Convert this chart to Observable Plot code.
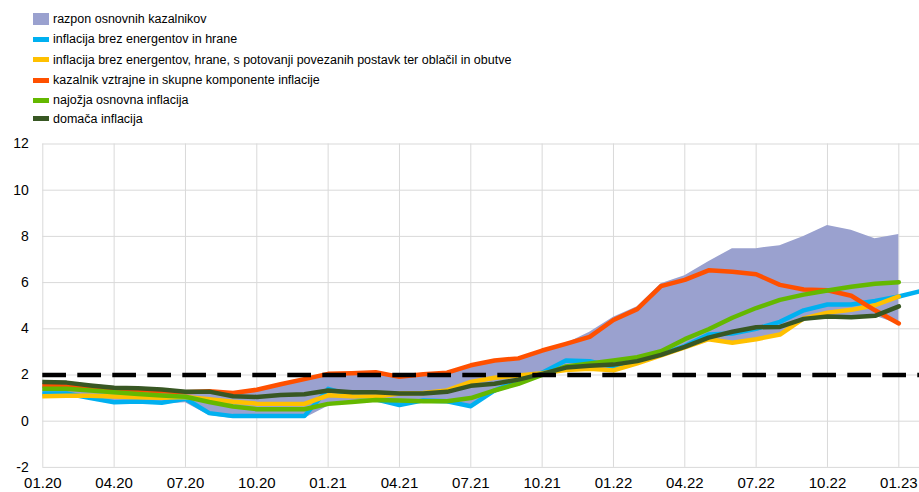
<!DOCTYPE html>
<html>
<head>
<meta charset="utf-8">
<script src="https://cdn.jsdelivr.net/npm/d3@7"></script>
<script src="https://cdn.jsdelivr.net/npm/@observablehq/plot@0.6"></script>
<style>
  body { margin: 0; background: #fff; font-family: "Liberation Sans", Arial, sans-serif; }
  #legend { position: relative; height: 132px; width: 919px; }
  .item { position: absolute; left: 33px; height: 20px; display: flex; align-items: center; font-size: 12.5px; color: #000; white-space: nowrap; }
  .sw { display: inline-block; margin-right: 4px; }
  #chart svg { display: block; }
</style>
</head>
<body>
<div id="legend"></div>
<div id="chart"></div>
<script>
// Month labels (index 0 = 01.20)
const monthLabels = ["01.20","02.20","03.20","04.20","05.20","06.20","07.20","08.20","09.20","10.20","11.20","12.20",
  "01.21","02.21","03.21","04.21","05.21","06.21","07.21","08.21","09.21","10.21","11.21","12.21",
  "01.22","02.22","03.22","04.22","05.22","06.22","07.22","08.22","09.22","10.22","11.22","12.22",
  "01.23","02.23"];
const xTicks = [0,3,6,9,12,15,18,21,24,27,30,33,36];
const yTicks = [-2,0,2,4,6,8,10,12];

const seriesNames = [
  "razpon osnovnih kazalnikov",
  "inflacija brez energentov in hrane",
  "inflacija brez energentov, hrane, s potovanji povezanih postavk ter oblačil in obutve",
  "kazalnik vztrajne in skupne komponente inflacije",
  "najožja osnovna inflacija",
  "domača inflacija"
];
const seriesColors = ["#9aa1cf","#00b0f0","#ffc000","#ff5000","#64b800","#385723"];

// range of core indicators (lower / upper bound)
const rangeLow = [1.0,1.05,0.95,0.78,0.8,0.75,0.8,0.25,0.12,0.12,0.12,0.12,
  0.65,0.8,0.85,0.65,0.8,0.8,0.6,1.2,1.6,2.0,2.2,2.25,
  2.15,2.45,2.8,3.15,3.5,3.35,3.5,3.7,4.4,4.5,4.5,4.55,4.2];
const rangeHigh = [1.75,1.72,1.6,1.5,1.48,1.42,1.3,1.32,1.25,1.38,1.6,1.82,
  2.05,2.08,2.12,1.92,2.03,2.1,2.42,2.63,2.72,3.06,3.35,3.85,
  4.5,4.95,5.95,6.3,6.9,7.47,7.47,7.6,8.0,8.47,8.27,7.9,8.08];

const exFoodEnergy = [1.2,1.2,1.0,0.82,0.85,0.8,0.97,0.35,0.22,0.22,0.22,0.22,
  1.4,1.12,0.95,0.7,0.9,0.86,0.65,1.33,1.76,2.1,2.63,2.6,
  2.35,2.6,2.9,3.25,3.75,3.8,4.0,4.3,4.8,5.05,5.05,5.2,5.4,5.65];
const exTravelClothing = [1.08,1.1,1.1,1.07,1.04,1.01,1.05,0.95,0.84,0.76,0.75,0.75,
  1.12,1.08,1.07,1.2,1.22,1.33,1.7,1.88,1.98,2.08,2.22,2.27,
  2.2,2.5,2.85,3.2,3.55,3.4,3.55,3.75,4.45,4.7,4.82,5.02,5.4];
const pcci = [1.55,1.5,1.45,1.4,1.35,1.3,1.25,1.3,1.22,1.36,1.6,1.82,
  2.05,2.08,2.12,1.92,2.03,2.1,2.42,2.63,2.72,3.06,3.35,3.65,
  4.38,4.85,5.85,6.12,6.53,6.47,6.36,5.9,5.7,5.67,5.43,4.8,4.23];
const supercore = [1.4,1.4,1.33,1.25,1.18,1.11,1.06,0.83,0.64,0.52,0.52,0.52,
  0.75,0.83,0.92,0.9,0.86,0.86,1.0,1.33,1.62,2.0,2.37,2.5,
  2.63,2.77,3.03,3.55,3.98,4.48,4.9,5.25,5.48,5.66,5.82,5.95,6.02];
const domestic = [1.7,1.67,1.55,1.45,1.43,1.37,1.27,1.28,1.08,1.05,1.13,1.17,
  1.33,1.25,1.25,1.2,1.2,1.27,1.53,1.62,1.8,2.05,2.32,2.4,
  2.45,2.6,2.87,3.22,3.62,3.87,4.07,4.08,4.43,4.53,4.5,4.56,4.97];
const targetLevel = 2;

// Legend
const legend = document.getElementById("legend");
const rowCenters = [18.5, 39, 59.5, 80, 100, 118.5];
seriesNames.forEach((name, k) => {
  const d = document.createElement("div");
  d.className = "item";
  d.style.top = (rowCenters[k] - 10) + "px";
  const sw = document.createElement("span");
  sw.className = "sw";
  sw.style.width = "16px";
  sw.style.height = k === 0 ? "12px" : "5px";
  sw.style.background = seriesColors[k];
  const t = document.createElement("span");
  t.textContent = name;
  d.appendChild(sw);
  d.appendChild(t);
  legend.appendChild(d);
});

const toRows = arr => arr.map((v, i) => ({i, v}));
const rangeRows = rangeLow.map((lo, i) => ({i, lo, hi: rangeHigh[i]}));
const lineSeries = [exFoodEnergy, exTravelClothing, pcci, supercore, domestic];

const lineMarks = lineSeries.map((arr, k) =>
  Plot.line(toRows(arr), {x: "i", y: "v", stroke: seriesColors[k + 1], strokeWidth: 4.5,
    strokeLinecap: "round", strokeLinejoin: "round", clip: true})
);

const chart = Plot.plot({
  width: 919,
  height: 360,
  marginTop: 11.5,
  marginBottom: 25.1,
  marginLeft: 42.3,
  marginRight: 0,
  style: {fontFamily: "'Liberation Sans', Arial, sans-serif", background: "#fff", overflow: "visible", color: "#000"},
  x: {type: "linear", domain: [0, 36.87], axis: null, label: null},
  y: {domain: [-2, 12], axis: null, label: null},
  marks: [
    Plot.gridX(xTicks, {stroke: "#d9d9d9", strokeOpacity: 1, strokeWidth: 1}),
    Plot.gridY(yTicks, {stroke: "#d9d9d9", strokeOpacity: 1, strokeWidth: 1}),
    Plot.axisX(xTicks, {tickSize: 0, tickPadding: 10, fontSize: 15, fill: "#000", label: null, tickFormat: i => monthLabels[i]}),
    Plot.axisY(yTicks, {tickSize: 0, tickPadding: 14, fontSize: 14, fill: "#000", label: null, tickFormat: d => String(d)}),
    Plot.areaY(rangeRows, {x: "i", y1: "lo", y2: "hi", fill: seriesColors[0], fillOpacity: 1, clip: true}),
    ...lineMarks,
    Plot.ruleY([targetLevel], {stroke: "#000", strokeWidth: 4.5, strokeDasharray: "23.7,11.3"})
  ]
});
document.getElementById("chart").appendChild(chart);
</script>
</body>
</html>
